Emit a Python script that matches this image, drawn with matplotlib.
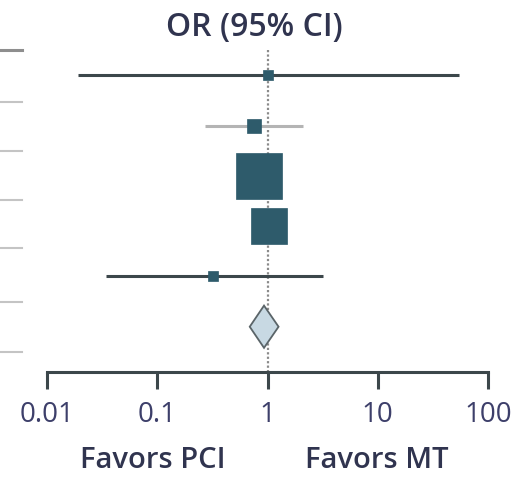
import numpy as np
import matplotlib.pyplot as plt
from matplotlib.lines import Line2D

# Study estimates (odds ratio, 95% CI)
odds_ratio = [1.0, 0.75, 0.84, 1.03, 0.32]
ci_low = [0.019, 0.27, 0.55, 0.75, 0.034]
ci_high = [55.0, 2.1, 1.25, 1.4, 3.2]
weights = [2.2, 5.3, 54.8, 35.0, 2.7]  # % weight -> box size
light_ci = [False, True, False, False, False]

# pooled estimate
pooled_or = 0.93
pooled_low = 0.69
pooled_high = 1.26

tick_vals = [0.01, 0.1, 1, 10, 100]
tick_labels = ['0.01', '0.1', '1', '10', '100']

plt.rcParams['font.family'] = ['Open Sans', 'DejaVu Sans']

fig = plt.figure(figsize=(5.15, 4.8), dpi=100)
W, H = 515, 480
ax = fig.add_axes([47 / W, (H - 372) / H, 441 / W, (372 - 40) / H])

teal = '#2e5b6b'
dark = '#3c474b'
navy = '#30344f'

rows = np.arange(len(odds_ratio))
for i in rows:
    lc = '#b4b4b4' if light_ci[i] else dark
    ax.plot([ci_low[i], ci_high[i]], [i, i], color=lc, lw=2.2, zorder=2,
            solid_capstyle='butt')
    side = 4.4 * np.sqrt(weights[i])
    ax.plot(odds_ratio[i], i, marker='s', ms=side, color=teal,
            mec=teal, mew=0.5, zorder=3)

# reference line at OR = 1
ax.plot([1, 1], [-0.5, 5.9], color='#8a8a8a', lw=1.6, ls=(0, (1, 1)), zorder=1)

# pooled diamond
py = len(odds_ratio)
dh = 0.42
ax.fill([pooled_low, pooled_or, pooled_high, pooled_or],
        [py, py - dh, py, py + dh], facecolor='#c8d9e3', edgecolor='#5a6468',
        lw=1.3, zorder=4)

ax.set_xscale('log')
ax.set_xlim(0.01, 100)
ax.set_ylim(5.9, -0.7)
ax.set_yticks([])
ax.set_xticks(tick_vals)
ax.set_xticklabels(tick_labels)
ax.minorticks_off()
for s in ['top', 'right', 'left']:
    ax.spines[s].set_visible(False)
ax.spines['bottom'].set_color(dark)
ax.spines['bottom'].set_linewidth(2.2)
ax.tick_params(axis='x', direction='out', length=12, width=2.2, color=dark,
               labelsize=20, labelcolor='#3d3f6a', pad=9)

fig.text(254 / W, 1 - 28 / H, 'OR (95% CI)', ha='center', va='center',
         fontsize=23, color=navy, fontweight='semibold')

fig.text(153 / W, 1 - 461 / H, 'Favors PCI', ha='center', va='center',
         fontsize=21, color=navy, fontweight='semibold')
fig.text(377 / W, 1 - 461 / H, 'Favors MT', ha='center', va='center',
         fontsize=21, color=navy, fontweight='semibold')

# fragments of the table rules on the left edge
for k, yp in enumerate([50, 102, 151, 200, 248, 302, 352]):
    c = '#8e8e8e' if k == 0 else '#c4c4c4'
    fig.add_artist(Line2D([0, 22 / W], [1 - yp / H, 1 - yp / H],
                          color=c, lw=2.2 if k == 0 else 1.5))

fig.savefig('out.png', dpi=100)
